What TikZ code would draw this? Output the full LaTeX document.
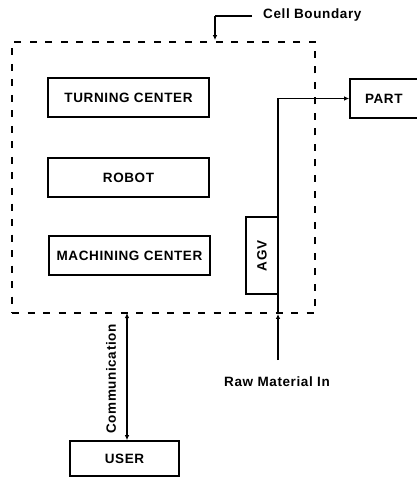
\documentclass[tikz,border=0pt]{standalone}
\usepackage{fontspec}
\setmainfont[LetterSpace=4.5]{Liberation Sans}
\usetikzlibrary{arrows.meta}
\begin{document}
\begin{tikzpicture}[x=1pt,y=-1pt,
  lbl/.style={font=\bfseries\fontsize{13.5}{16}\selectfont, inner sep=0pt},
  box/.style={draw, line width=1.6pt, lbl},
  bound/.style={draw, line width=1.8pt, dash pattern=on 7pt off 8.5pt, inner sep=0pt},
  conn/.style={line width=1.7pt},
  tip/.style={-{Latex[length=5pt,width=4.5pt]}},
  tips/.style={{Latex[length=5pt,width=4.5pt]}-{Latex[length=5pt,width=4.5pt]}},
]
\useasboundingbox (0,0) rectangle (416,478);
% cell boundary
\node[bound, minimum width=303pt, minimum height=271pt] (cell) at (163.5,177.5) {};
% machines
\node[box, minimum width=161pt, minimum height=39pt] (tc) at (128.5,97.5) {TURNING CENTER};
\node[box, minimum width=161pt, minimum height=39pt] (rb) at (128.5,177.5) {ROBOT};
\node[box, minimum width=161pt, minimum height=39pt] (mc) at (129.5,255.5) {MACHINING CENTER};
\node[box, minimum width=32pt, minimum height=77pt] (agv) at (262,255.5) {};
\node[lbl, rotate=90] (agvt) at (262,256) {AGV};
% part
\node[box, minimum width=70pt, minimum height=39pt, text width=64pt, align=left] (part) at (385,98.5) {\hspace{12pt}PART};
% user
\node[box, minimum width=109pt, minimum height=35pt] (user) at (124.5,458.5) {USER};
% cell boundary label
\node[lbl, anchor=west] (cb) at (263,15) {Cell Boundary};
\coordinate (cbk) at (215,16);
\draw[conn] ([xshift=-11pt]cb.west |- cbk) -- (cbk);
\draw[conn, tip] (cbk) -- ([yshift=1pt]cbk |- cell.north);
% raw material
\node[lbl] (rawt) at (277,382) {Raw Material In};
\coordinate (raw) at (278,360);
\draw[conn, tip] (raw) -- (raw |- cell.south);
\draw[conn, tip] (raw |- cell.south) -- (raw |- part.west) -- (part.west);
% communication
\coordinate (comm) at (127,313);
\draw[conn, tips] (comm |- user.north) -- (comm);
\node[lbl, rotate=90] (commt) at (111,379) {Communication};
\end{tikzpicture}
\end{document}
